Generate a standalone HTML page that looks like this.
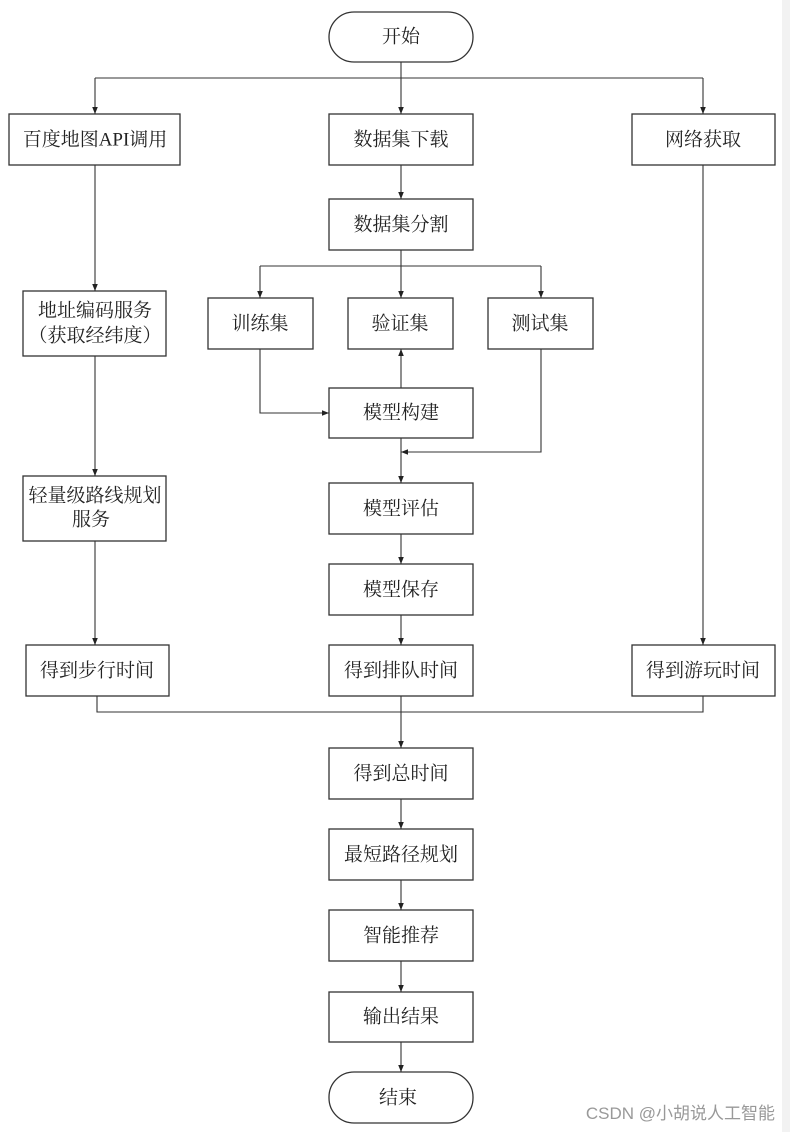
<!DOCTYPE html>
<html><head><meta charset="utf-8"><style>
html,body{margin:0;padding:0;background:#fff;}
svg{display:block;}
text{font-family:"Liberation Serif","Noto Serif CJK SC",serif;font-size:19px;fill:#222;}
</style></head><body>
<svg width="790" height="1132" viewBox="0 0 790 1132" xmlns="http://www.w3.org/2000/svg">
<defs><marker id="a" viewBox="0 0 10 10" refX="10" refY="5" markerWidth="7" markerHeight="9" markerUnits="userSpaceOnUse" orient="auto"><path d="M0,1 L10,5 L0,9 z" fill="#222"/></marker>
<marker id="b" viewBox="0 0 10 10" refX="10" refY="5" markerWidth="16" markerHeight="7" markerUnits="userSpaceOnUse" orient="auto"><path d="M0,1 L10,5 L0,9 z" fill="#222"/></marker></defs>
<rect x="782" y="0" width="8" height="1132" fill="#f2f2f2"/>
<g fill="none" stroke="#333" stroke-width="1.3">
<rect x="329" y="12" width="144" height="50" rx="25"/>
<rect x="9" y="114" width="171" height="51"/>
<rect x="329" y="114" width="144" height="51"/>
<rect x="632" y="114" width="143" height="51"/>
<rect x="329" y="199" width="144" height="51"/>
<rect x="208" y="298" width="105" height="51"/>
<rect x="348" y="298" width="105" height="51"/>
<rect x="488" y="298" width="105" height="51"/>
<rect x="23" y="291" width="143" height="65"/>
<rect x="329" y="388" width="144" height="50"/>
<rect x="23" y="476" width="143" height="65"/>
<rect x="329" y="483" width="144" height="51"/>
<rect x="329" y="564" width="144" height="51"/>
<rect x="26" y="645" width="143" height="51"/>
<rect x="329" y="645" width="144" height="51"/>
<rect x="632" y="645" width="143" height="51"/>
<rect x="329" y="748" width="144" height="51"/>
<rect x="329" y="829" width="144" height="51"/>
<rect x="329" y="910" width="144" height="51"/>
<rect x="329" y="992" width="144" height="50"/>
<rect x="329" y="1072" width="144" height="51" rx="25"/>
</g>
<g fill="none" stroke="#333" stroke-width="1.1">
<path d="M401 62 V114" marker-end="url(#a)"/>
<path d="M95 78 H703"/>
<path d="M95 78 V114" marker-end="url(#a)"/>
<path d="M703 78 V114" marker-end="url(#a)"/>
<path d="M401 165 V199" marker-end="url(#a)"/>
<path d="M401 250 V298" marker-end="url(#a)"/>
<path d="M260 266 H541"/>
<path d="M260 266 V298" marker-end="url(#a)"/>
<path d="M541 266 V298" marker-end="url(#a)"/>
<path d="M95 165 V291" marker-end="url(#a)"/>
<path d="M260 349 V413 H329" marker-end="url(#a)"/>
<path d="M401 388 V349" marker-end="url(#a)"/>
<path d="M541 349 V452 H401" marker-end="url(#a)"/>
<path d="M401 438 V483" marker-end="url(#a)"/>
<path d="M95 356 V476" marker-end="url(#a)"/>
<path d="M401 534 V564" marker-end="url(#a)"/>
<path d="M401 615 V645" marker-end="url(#a)"/>
<path d="M95 541 V645" marker-end="url(#a)"/>
<path d="M703 165 V645" marker-end="url(#a)"/>
<path d="M97 696 V712 H703 V696"/>
<path d="M401 696 V748" marker-end="url(#a)"/>
<path d="M401 799 V829" marker-end="url(#a)"/>
<path d="M401 880 V910" marker-end="url(#a)"/>
<path d="M401 961 V992" marker-end="url(#a)"/>
<path d="M401 1042 V1072" marker-end="url(#a)"/>
</g>
<g text-anchor="middle" dominant-baseline="central">
<text x="401" y="37">开始</text>
<text x="95" y="140">百度地图API调用</text>
<text x="401" y="140">数据集下载</text>
<text x="703" y="140">网络获取</text>
<text x="401" y="225">数据集分割</text>
<text x="260" y="324">训练集</text>
<text x="400" y="324">验证集</text>
<text x="540" y="324">测试集</text>
<text x="95" y="311">地址编码服务</text>
<text x="95" y="336">（获取经纬度）</text>
<text x="401" y="413">模型构建</text>
<text x="95" y="496">轻量级路线规划</text>
<text x="91" y="520">服务</text>
<text x="401" y="509">模型评估</text>
<text x="401" y="590">模型保存</text>
<text x="97" y="671">得到步行时间</text>
<text x="401" y="671">得到排队时间</text>
<text x="703" y="671">得到游玩时间</text>
<text x="401" y="774">得到总时间</text>
<text x="401" y="855">最短路径规划</text>
<text x="401" y="936">智能推荐</text>
<text x="401" y="1017">输出结果</text>
<text x="398" y="1098">结束</text>
</g>
<text x="775" y="1119" text-anchor="end" style="font-family:'Liberation Sans','Noto Sans CJK SC',sans-serif;font-size:17px;fill:#999;">CSDN @小胡说人工智能</text>
</svg>
</body></html>
